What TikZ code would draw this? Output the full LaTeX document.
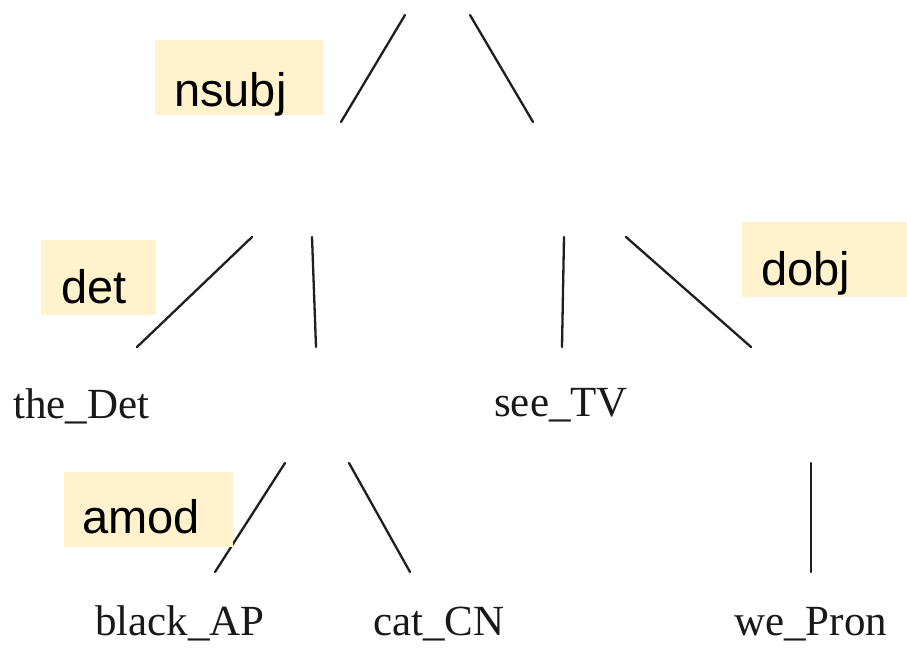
\documentclass[tikz,border=0pt]{standalone}
\usepackage{fontspec}
\setmainfont{Liberation Serif}
\newfontfamily\relfont{Liberation Sans}
\definecolor{relfill}{HTML}{FFF2CC}
\begin{document}
\begin{tikzpicture}[x=1pt,y=-1pt,
  branch/.style={line width=2.3pt,draw=black!88,line cap=round},
  word/.style={anchor=base west,inner sep=0pt,font=\fontsize{43}{43}\selectfont,text=black!90},
  reltext/.style={anchor=base west,inner sep=0pt,font=\relfont\fontsize{47}{47}\selectfont},
  relbox/.style={fill=relfill,draw=none}]
\useasboundingbox[fill=white] (0,0) rectangle (907,653);

% branch end points
\coordinate (s1a) at (405,15);  \coordinate (s1b) at (341,122);
\coordinate (s2a) at (470,15);  \coordinate (s2b) at (533,122);
\coordinate (d1a) at (252,237); \coordinate (d1b) at (137,347);
\coordinate (d2a) at (312,237); \coordinate (d2b) at (316,347);
\coordinate (v1a) at (564,237); \coordinate (v1b) at (562,347);
\coordinate (o1a) at (626,237); \coordinate (o1b) at (751,347);
\coordinate (a1a) at (285,463); \coordinate (a1b) at (215,572);
\coordinate (a2a) at (349,463); \coordinate (a2b) at (410,572);
\coordinate (p1a) at (811,463); \coordinate (p1b) at (811,572);

\draw[branch] (s1a) -- (s1b);
\draw[branch] (s2a) -- (s2b);
\draw[branch] (d1a) -- (d1b);
\draw[branch] (d2a) -- (d2b);
\draw[branch] (v1a) -- (v1b);
\draw[branch] (o1a) -- (o1b);
\draw[branch] (a1a) -- (a1b);
\draw[branch] (a2a) -- (a2b);
\draw[branch] (p1a) -- (p1b);

% dependency relation labels
\fill[relbox] (155,40) rectangle (323,115);
\node[reltext] (nsubj) at (174,106) {nsubj};
\fill[relbox] (41,240) rectangle (156,315);
\node[reltext] (det) at (61,303) {det};
\fill[relbox] (742,222) rectangle (907,297);
\node[reltext] (dobj) at (761,285) {dobj};
\fill[relbox] (64,472) rectangle (233,547);
\node[reltext] (amod) at (82,533) {amod};

% words
\node[word] (the) at (13,418) {the\_Det};
\node[word] (see) at (494,416) {see\_TV};
\node[word] (black) at (95,635) {black\_AP};
\node[word] (cat) at (373,635) {cat\_CN};
\node[word] (we) at (734,635) {we\_Pron};
\end{tikzpicture}
\end{document}
